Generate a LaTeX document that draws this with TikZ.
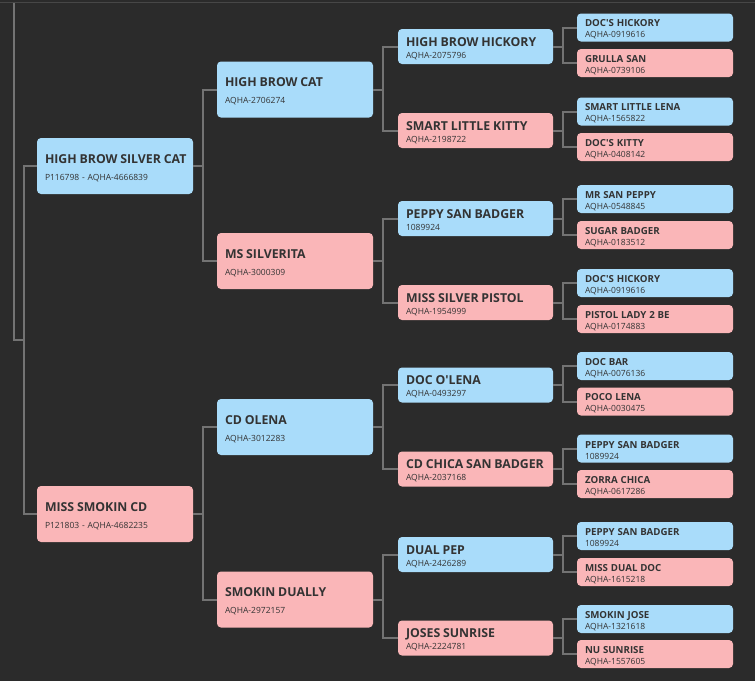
\documentclass[tikz,border=0pt]{standalone}
\usepackage{fontspec}
\setmainfont{Open Sans}
\definecolor{bg}{HTML}{2B2B2B}
\definecolor{rule}{HTML}{474747}
\definecolor{linkgray}{HTML}{737373}
\definecolor{sireblue}{HTML}{A9DCFA}
\definecolor{dampink}{HTML}{FAB6B8}
\definecolor{txtgray}{HTML}{333333}
\newcommand{\bigname}[1]{\mbox{\fontsize{12.3}{13}\selectfont\bfseries\rule{0pt}{13pt}#1}}
\newcommand{\smallname}[1]{\mbox{\fontsize{9.7}{10}\selectfont\bfseries\rule{0pt}{11pt}#1}}
\begin{document}
\begin{tikzpicture}[x=1pt,y=-1pt,
  link/.style={draw=linkgray,line width=2pt},
  box/.style={rounded corners=4pt,align=left,inner xsep=8pt,inner ysep=0pt,text=txtgray},
  g12/.style={box,minimum width=156pt,minimum height=56pt,text width=140pt,font=\fontsize{8.5}{17}\selectfont},
  g3/.style={box,minimum width=155pt,minimum height=35pt,text width=139pt,font=\fontsize{8.5}{12}\selectfont},
  g4/.style={box,minimum width=156pt,minimum height=28pt,text width=140pt,font=\fontsize{8.5}{11}\selectfont},
  sire/.style={fill=sireblue},
  dam/.style={fill=dampink}]
\fill[bg] (0,0) rectangle (755,681);
\useasboundingbox (0,0) rectangle (755,681);
\draw[rule] (0,2.5) -- (755,2.5);

% generation 1
\node[g12,sire] (hbsc) at (115,166) {\bigname{HIGH BROW SILVER CAT}\\P116798 - AQHA-4666839};
\node[g12,dam] (msc) at (115,514) {\bigname{MISS SMOKIN CD}\\P121803 - AQHA-4682235};

% generation 2
\node[g12,sire] (hbc) at (295,89.5) {\bigname{HIGH BROW CAT}\\AQHA-2706274};
\node[g12,dam] (mss) at (295,261) {\bigname{MS SILVERITA}\\AQHA-3000309};
\node[g12,sire] (cdo) at (295,427) {\bigname{CD OLENA}\\AQHA-3012283};
\node[g12,dam] (sdu) at (295,599.5) {\bigname{SMOKIN DUALLY}\\AQHA-2972157};

% generation 3
\node[g3,sire] (hbh) at (475.5,46.5) {\bigname{HIGH BROW HICKORY}\\AQHA-2075796};
\node[g3,dam] (slk) at (475.5,130.5) {\bigname{SMART LITTLE KITTY}\\AQHA-2198722};
\node[g3,sire] (psb) at (475.5,218.5) {\bigname{PEPPY SAN BADGER}\\1089924};
\node[g3,dam] (msp) at (475.5,302.5) {\bigname{MISS SILVER PISTOL}\\AQHA-1954999};
\node[g3,sire] (dol) at (475.5,385) {\bigname{DOC O\textquotesingle LENA}\\AQHA-0493297};
\node[g3,dam] (ccsb) at (475.5,469) {\bigname{CD CHICA SAN BADGER}\\AQHA-2037168};
\node[g3,sire] (dpe) at (475.5,554.5) {\bigname{DUAL PEP}\\AQHA-2426289};
\node[g3,dam] (jsu) at (475.5,638) {\bigname{JOSES SUNRISE}\\AQHA-2224781};

% generation 4
\node[g4,sire] (dhi) at (655,27.5) {\smallname{DOC\textquotesingle S HICKORY}\\AQHA-0919616};
\node[g4,dam] (gsa) at (655,63) {\smallname{GRULLA SAN}\\AQHA-0739106};
\node[g4,sire] (sll) at (655,111.5) {\smallname{SMART LITTLE LENA}\\AQHA-1565822};
\node[g4,dam] (dki) at (655,147) {\smallname{DOC\textquotesingle S KITTY}\\AQHA-0408142};
\node[g4,sire] (msy) at (655,199) {\smallname{MR SAN PEPPY}\\AQHA-0548845};
\node[g4,dam] (sba) at (655,235) {\smallname{SUGAR BADGER}\\AQHA-0183512};
\node[g4,sire] (dhib) at (655,283) {\smallname{DOC\textquotesingle S HICKORY}\\AQHA-0919616};
\node[g4,dam] (pla) at (655,319) {\smallname{PISTOL LADY 2 BE}\\AQHA-0174883};
\node[g4,sire] (dba) at (655,366) {\smallname{DOC BAR}\\AQHA-0076136};
\node[g4,dam] (ple) at (655,401.5) {\smallname{POCO LENA}\\AQHA-0030475};
\node[g4,sire] (psbb) at (655,448.5) {\smallname{PEPPY SAN BADGER}\\1089924};
\node[g4,dam] (zch) at (655,484) {\smallname{ZORRA CHICA}\\AQHA-0617286};
\node[g4,sire] (psbc) at (655,536) {\smallname{PEPPY SAN BADGER}\\1089924};
\node[g4,dam] (mdd) at (655,572) {\smallname{MISS DUAL DOC}\\AQHA-1615218};
\node[g4,sire] (sjo) at (655,619) {\smallname{SMOKIN JOSE}\\AQHA-1321618};
\node[g4,dam] (nsu) at (655,654) {\smallname{NU SUNRISE}\\AQHA-1557605};

% root
\coordinate (root) at (14,3);
\coordinate (fork) at (24,340);
\path[link] (root) |- (fork);
\path[link] (fork) |- (hbsc.west);
\path[link] (fork) |- (msc.west);

\path[link] (hbsc.east) -- ++(10,0) |- (hbc.west);
\path[link] (hbsc.east) -- ++(10,0) |- (mss.west);
\path[link] (msc.east) -- ++(10,0) |- (cdo.west);
\path[link] (msc.east) -- ++(10,0) |- (sdu.west);

\path[link] (hbc.east) -- ++(10,0) |- (hbh.west);
\path[link] (hbc.east) -- ++(10,0) |- (slk.west);
\path[link] (mss.east) -- ++(10,0) |- (psb.west);
\path[link] (mss.east) -- ++(10,0) |- (msp.west);
\path[link] (cdo.east) -- ++(10,0) |- (dol.west);
\path[link] (cdo.east) -- ++(10,0) |- (ccsb.west);
\path[link] (sdu.east) -- ++(10,0) |- (dpe.west);
\path[link] (sdu.east) -- ++(10,0) |- (jsu.west);

\path[link] (hbh.east) -- ++(10,0) |- (dhi.west);
\path[link] (hbh.east) -- ++(10,0) |- (gsa.west);
\path[link] (slk.east) -- ++(10,0) |- (sll.west);
\path[link] (slk.east) -- ++(10,0) |- (dki.west);
\path[link] (psb.east) -- ++(10,0) |- (msy.west);
\path[link] (psb.east) -- ++(10,0) |- (sba.west);
\path[link] (msp.east) -- ++(10,0) |- (dhib.west);
\path[link] (msp.east) -- ++(10,0) |- (pla.west);
\path[link] (dol.east) -- ++(10,0) |- (dba.west);
\path[link] (dol.east) -- ++(10,0) |- (ple.west);
\path[link] (ccsb.east) -- ++(10,0) |- (psbb.west);
\path[link] (ccsb.east) -- ++(10,0) |- (zch.west);
\path[link] (dpe.east) -- ++(10,0) |- (psbc.west);
\path[link] (dpe.east) -- ++(10,0) |- (mdd.west);
\path[link] (jsu.east) -- ++(10,0) |- (sjo.west);
\path[link] (jsu.east) -- ++(10,0) |- (nsu.west);
\end{tikzpicture}
\end{document}
